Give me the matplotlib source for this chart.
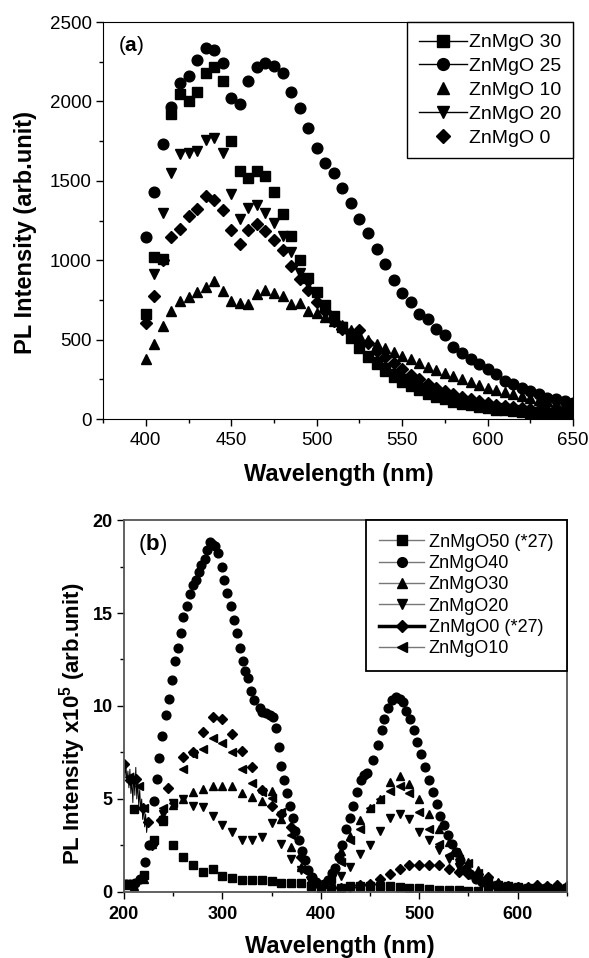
import numpy as np
import matplotlib
matplotlib.use("Agg")
from matplotlib import pyplot as plt
from matplotlib.lines import Line2D
from matplotlib.ticker import MultipleLocator

plt.rcParams["font.family"] = ["Liberation Sans", "DejaVu Sans"]
plt.rcParams["mathtext.fontset"] = "custom"
plt.rcParams["mathtext.rm"] = "Liberation Sans"
plt.rcParams["mathtext.bf"] = "Liberation Sans:bold"

# ---- panel (a) data: PL intensity (arb.unit), every 5 nm from 400 to 650 nm
wl_a = np.arange(400, 655, 5)

zn30 = [659, 1020, 1010, 1918, 2045, 2003, 2061, 2181, 2217, 2128, 1751, 1562, 1516, 1562, 1530,
        1432, 1289, 1152, 999, 890, 800, 720, 650, 580, 510, 450, 390, 345, 300, 265, 235, 205,
        180, 160, 140, 125, 110, 97, 87, 77, 68, 60, 54, 48, 43, 38, 34, 30, 28, 25, 23]
zn25 = [1146, 1432, 1734, 1965, 2118, 2160, 2261, 2334, 2322, 2242, 2024, 1986, 2128, 2217, 2240,
        2221, 2181, 2061, 1956, 1830, 1709, 1614, 1551, 1457, 1358, 1262, 1169, 1068, 974, 873,
        791, 737, 659, 632, 565, 527, 453, 418, 380, 344, 317, 281, 239, 218, 197, 176, 155, 134,
        124, 113, 103]
zn10 = [376, 474, 586, 680, 743, 768, 802, 831, 869, 806, 743, 733, 722, 785, 810, 791, 775, 726,
        733, 680, 670, 640, 620, 590, 560, 530, 500, 475, 450, 425, 400, 375, 350, 330, 308, 288,
        268, 250, 232, 215, 198, 182, 168, 155, 143, 132, 122, 112, 104, 96, 89]
zn20 = [649, 911, 1299, 1551, 1667, 1677, 1688, 1755, 1767, 1677, 1419, 1257, 1327, 1348, 1299,
        1236, 1150, 1050, 920, 850, 780, 700, 640, 580, 520, 460, 400, 360, 320, 285, 250, 220,
        195, 172, 153, 137, 122, 108, 97, 87, 78, 70, 63, 57, 51, 46, 42, 38, 35, 32, 30]
zn0 = [607, 775, 999, 1146, 1199, 1278, 1320, 1404, 1377, 1314, 1188, 1100, 1188, 1230, 1184,
       1125, 1062, 963, 880, 810, 740, 680, 620, 570, 540, 560, 480, 430, 390, 350, 315, 280,
       250, 222, 198, 177, 158, 141, 126, 113, 101, 91, 82, 74, 67, 61, 56, 51, 47, 44, 41]

# ---- panel (b) data: PL intensity x10^5
wl40 = [202, 206, 211, 216, 221, 225, 231, 234, 236, 239, 243, 246, 249, 252, 255, 258, 260, 264,
        267, 270, 273, 276, 278, 282, 284, 287, 289, 292, 296, 300, 302, 305, 309, 312, 315, 318,
        321, 323, 326, 329, 332, 338, 340, 344, 348, 351, 354, 357, 360, 363, 366, 369, 372, 374,
        378, 381, 384, 387, 391, 395, 399, 403, 407, 411, 414, 418, 422, 426, 430, 433, 437, 441,
        444, 447, 453, 458, 462, 464, 468, 472, 476, 480, 483, 487, 491, 495, 498, 502, 506, 510,
        514, 518, 521, 525, 529, 533, 537, 541, 547, 552, 558, 564, 571, 579, 586, 594, 602, 609,
        617, 625, 632, 640, 648]
v40 = [0.45, 0.45, 0.48, 0.7, 1.6, 2.5, 4.9, 6.1, 7.2, 8.4, 9.5, 10.4, 11.4, 12.4, 13.1, 13.9,
       14.8, 15.4, 16.0, 16.5, 16.8, 17.2, 17.6, 17.9, 18.4, 18.8, 18.7, 18.6, 18.2, 17.5, 16.8,
       16.1, 15.4, 14.6, 13.9, 13.1, 12.4, 11.9, 11.5, 10.8, 10.3, 9.9, 9.7, 9.6, 9.5, 9.4, 8.8,
       7.8, 6.8, 6.0, 5.3, 4.65, 4.0, 3.3, 2.8, 2.2, 1.7, 1.16, 0.8, 0.54, 0.36, 0.45, 0.63, 1.0,
       1.3, 1.9, 2.5, 3.4, 4.0, 4.6, 5.4, 6.0, 6.3, 6.4, 7.1, 7.9, 8.7, 9.3, 9.9, 10.3, 10.5, 10.4,
       10.2, 9.75, 9.3, 8.7, 8.05, 7.4, 6.7, 6.0, 5.4, 4.74, 4.1, 3.6, 3.04, 2.6, 2.15, 1.7, 1.25,
       0.98, 0.72, 0.54, 0.41, 0.32, 0.27, 0.23, 0.2, 0.18, 0.16, 0.14, 0.14, 0.14, 0.14]

wl50 = [202, 210, 220, 230, 240, 250, 260, 270, 280, 290, 300, 310, 320, 330, 340, 350, 360, 370,
        380, 390, 400, 410, 420, 430, 440, 450, 460, 470, 480, 490, 500, 510, 520, 530, 540, 550,
        560, 570, 580, 590, 600, 610, 620, 630, 640, 650]
v50 = [0.45, 4.47, 0.9, 2.8, 3.85, 2.5, 1.88, 1.43, 1.07, 1.25, 0.84, 0.77, 0.66, 0.66, 0.63, 0.57,
       0.48, 0.48, 0.5, 0.3, 0.2, 0.15, 0.2, 0.3, 0.3, 0.32, 0.32, 0.3, 0.27, 0.22, 0.2, 0.15, 0.12,
       0.1, 0.1, 0.08, 0.08, 0.07, 0.07, 0.06, 0.06, 0.05, 0.05, 0.05, 0.05, 0.05]

wl30 = [202, 210, 220, 228, 240, 250, 260, 270, 280, 290, 300, 310, 320, 330, 340, 350, 360, 370,
        380, 390, 400, 410, 420, 430, 440, 450, 460, 470, 480, 490, 500, 510, 520, 530, 540, 550,
        560, 570, 580, 590, 600, 610, 620, 630, 640, 650]
v30 = [0.4, 0.3, 0.7, 2.6, 3.8, 4.7, 5.0, 5.4, 5.55, 5.7, 5.7, 5.7, 5.3, 5.1, 4.9, 5.45, 3.9, 2.4,
       1.34, 0.7, 0.3, 0.6, 2.2, 3.0, 3.85, 4.5, 5.0, 5.9, 6.25, 5.8, 5.0, 4.2, 3.4, 2.7, 2.15, 1.6,
       1.16, 0.8, 0.55, 0.4, 0.3, 0.25, 0.2, 0.2, 0.2, 0.2]
wl20 = wl30
v20 = [0.4, 0.35, 0.8, 2.5, 4.2, 4.8, 5.0, 4.65, 4.55, 4.1, 3.6, 3.2, 2.8, 2.8, 2.96, 3.7, 2.6,
       1.75, 1.2, 0.6, 0.3, 0.4, 0.85, 1.35, 2.05, 2.5, 3.3, 4.0, 4.2, 3.95, 3.2, 2.8, 2.25, 1.8,
       1.34, 0.98, 0.7, 0.5, 0.35, 0.3, 0.25, 0.22, 0.2, 0.2, 0.2, 0.2]

wl0 = [200, 206, 212, 219, 224, 228, 238, 245, 260, 270, 280, 290, 300, 310, 320, 330, 340, 350,
       360, 370, 380, 390, 400, 410, 420, 430, 440, 450, 460, 470, 480, 490, 500, 510, 520, 530,
       540, 550, 560, 570, 580, 590, 600, 610, 620, 630, 640, 650]
v0 = [6.9, 6.0, 6.1, 4.5, 3.75, 2.5, 3.85, 5.6, 7.25, 7.5, 8.6, 9.4, 9.3, 8.5, 7.6, 6.7, 5.5, 4.6,
      4.2, 3.5, 1.9, 0.8, 0.3, 0.25, 0.2, 0.25, 0.36, 0.45, 0.72, 0.98, 1.25, 1.43, 1.47, 1.47,
      1.43, 1.25, 1.07, 0.98, 0.98, 0.8, 0.45, 0.3, 0.25, 0.25, 0.39, 0.3, 0.39, 0.3]

wl10 = [205, 215, 220, 240, 250, 260, 270, 280, 290, 300, 310, 320, 330, 340, 350, 360, 370, 380,
        390, 400, 410, 420, 430, 440, 450, 460, 470, 480, 490, 500, 510, 520, 530, 540, 550, 560,
        570, 580, 590, 600, 610, 620, 630, 640, 650]
v10 = [6.2, 5.7, 4.5, 4.5, 4.8, 6.6, 7.4, 7.7, 8.3, 8.0, 7.55, 6.6, 5.85, 5.4, 5.05, 4.3, 3.04,
       1.25, 0.7, 0.3, 0.7, 1.6, 2.8, 3.4, 4.5, 5.0, 5.45, 5.7, 5.3, 4.3, 3.4, 2.6, 1.97, 1.8, 1.56,
       1.0, 0.6, 0.4, 0.3, 0.25, 0.22, 0.2, 0.2, 0.2, 0.2]

# noisy trace at the short-wavelength edge
edge_wl = [200, 201, 202, 203, 204, 205, 206, 207, 208, 209, 210, 211, 212, 213, 214, 215, 216,
           217, 218, 219, 220, 221, 222, 223, 224]
edge_v = [7.0, 6.2, 6.8, 5.9, 6.5, 5.6, 6.6, 5.3, 6.0, 4.8, 6.4, 5.2, 6.7, 5.0, 5.9, 4.6, 5.5,
          4.4, 5.0, 3.9, 4.6, 3.5, 4.2, 3.2, 3.7]

fig = plt.figure(figsize=(5.89, 9.58), dpi=100)

# ---------------- panel (a)
ax1 = fig.add_axes([0.175, 0.5626, 0.798, 0.4144])
ms_a = 7.2
ax1.plot(wl_a, zn30, ls="none", marker="s", color="black", ms=ms_a)
ax1.plot(wl_a, zn20, ls="none", marker="v", color="black", ms=ms_a + 0.5)
ax1.plot(wl_a, zn0, ls="none", marker="D", color="black", ms=ms_a - 1)
ax1.plot(wl_a, zn10, ls="none", marker="^", color="black", ms=ms_a + 0.5)
ax1.plot(wl_a, zn25, ls="none", marker="o", color="black", ms=ms_a + 0.5)

ax1.set_xlim(375, 650)
ax1.set_ylim(0, 2500)
ax1.xaxis.set_major_locator(MultipleLocator(50))
ax1.xaxis.set_minor_locator(MultipleLocator(25))
ax1.yaxis.set_major_locator(MultipleLocator(500))
ax1.yaxis.set_minor_locator(MultipleLocator(250))
ax1.tick_params(which="both", direction="out", top=False, right=False, labelsize=13.5)
ax1.tick_params(which="major", length=5, width=1)
ax1.tick_params(which="minor", length=3, width=1)
ax1.tick_params(axis="x", pad=4)
ax1.tick_params(axis="y", pad=3)
ax1.text(0.032, 0.94, r"($\mathbf{a}$)", transform=ax1.transAxes, fontsize=15, va="center")

handles_a = [
    Line2D([], [], color="black", lw=1, marker="s", ms=8),
    Line2D([], [], color="black", lw=1, marker="o", ms=8.5),
    Line2D([], [], color="black", ls="none", marker="^", ms=8.5),
    Line2D([], [], color="black", lw=1, marker="v", ms=8.5),
    Line2D([], [], color="black", ls="none", marker="D", ms=7),
]
labels_a = ["ZnMgO 30", "ZnMgO 25", "ZnMgO 10", "ZnMgO 20", "ZnMgO 0"]
leg1 = ax1.legend(handles_a, labels_a, loc="upper right", fontsize=14, frameon=True,
                  fancybox=False, edgecolor="black", framealpha=1, borderaxespad=0,
                  handlelength=2.5, handletextpad=0.1, labelspacing=0.32, borderpad=0.6)
leg1.get_frame().set_linewidth(1)

fig.text(26 / 589, 1 - 232 / 958, "PL Intensity (arb.unit)", rotation=90, ha="center",
         va="center", fontsize=17, fontweight="bold")
fig.text(339 / 589, 1 - 474 / 958, "Wavelength (nm)", ha="center", va="center",
         fontsize=17, fontweight="bold")

# ---------------- panel (b)
ax2 = fig.add_axes([0.2105, 0.0689, 0.752, 0.3883])
ms_b = 6.3
ax2.plot(edge_wl, edge_v, color="black", lw=0.7)
ax2.plot(wl50, v50, ls="none", marker="s", color="black", ms=ms_b - 0.5)
ax2.plot(wl30, v30, ls="none", marker="^", color="black", ms=ms_b)
ax2.plot(wl20, v20, ls="none", marker="v", color="black", ms=ms_b)
ax2.plot(wl10, v10, ls="none", marker="<", color="black", ms=ms_b)
ax2.plot(wl0, v0, ls="none", marker="D", color="black", ms=ms_b - 1)
ax2.plot(wl40, v40, ls="none", marker="o", color="black", ms=ms_b)

ax2.set_xlim(200, 650)
ax2.set_ylim(0, 20)
ax2.xaxis.set_major_locator(MultipleLocator(100))
ax2.xaxis.set_minor_locator(MultipleLocator(50))
ax2.yaxis.set_major_locator(MultipleLocator(5))
ax2.yaxis.set_minor_locator(MultipleLocator(2.5))
ax2.tick_params(which="both", direction="out", top=False, right=False, labelsize=13)
ax2.tick_params(which="major", length=5, width=1)
ax2.tick_params(which="minor", length=3, width=1)
ax2.tick_params(axis="x", pad=5)
ax2.tick_params(axis="y", pad=3)
for lab in ax2.get_xticklabels() + ax2.get_yticklabels():
    lab.set_fontweight("bold")
for sp in ax2.spines.values():
    sp.set_color("#555555")
    sp.set_linewidth(1.3)
ax2.text(0.032, 0.935, r"($\mathbf{b}$)", transform=ax2.transAxes, fontsize=16, va="center")

handles_b = [
    Line2D([], [], color="#777777", lw=1, marker="s", mfc="black", mec="black", ms=7),
    Line2D([], [], color="#777777", lw=1, marker="o", mfc="black", mec="black", ms=7),
    Line2D([], [], color="#777777", lw=1, marker="^", mfc="black", mec="black", ms=7),
    Line2D([], [], color="#777777", lw=1, marker="v", mfc="black", mec="black", ms=7),
    Line2D([], [], color="black", lw=2.5, marker="D", mfc="black", mec="black", ms=6),
    Line2D([], [], color="#777777", lw=1, marker="<", mfc="black", mec="black", ms=7),
]
labels_b = ["ZnMgO50 (*27)", "ZnMgO40", "ZnMgO30", "ZnMgO20", "ZnMgO0 (*27)", "ZnMgO10"]
leg2 = ax2.legend(handles_b, labels_b, loc="upper right", fontsize=13, frameon=True,
                  fancybox=False, edgecolor="black", framealpha=1, borderaxespad=0,
                  handlelength=2.5, handletextpad=0.25, labelspacing=0.24, borderpad=0.75)
leg2.get_frame().set_linewidth(1.3)

fig.text(73 / 589, 1 - 724 / 958, r"PL Intensity x10$^{\mathbf{5}}$ (arb.unit)", rotation=90,
         ha="center", va="center", fontsize=16, fontweight="bold")
fig.text(340 / 589, 1 - 946 / 958, "Wavelength (nm)", ha="center", va="center",
         fontsize=17, fontweight="bold")

plt.savefig("out.png", dpi=100)
